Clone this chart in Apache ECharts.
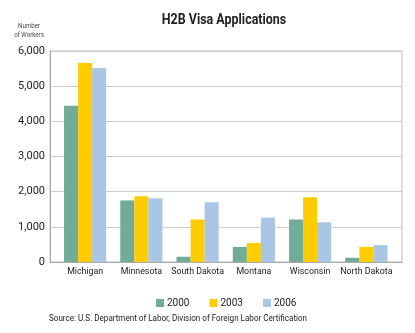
<!DOCTYPE html>
<html><head><meta charset="utf-8">
<script src="https://cdn.jsdelivr.net/npm/echarts@6/dist/echarts.min.js"></script>
<style>html,body{margin:0;padding:0;background:#fff}#c{width:415px;height:333px}</style>
</head><body><div id="c"></div>
<script>
const categories = ["Michigan","Minnesota","South Dakota","Montana","Wisconsin","North Dakota"];
const seriesNames = ["2000","2003","2006"];
const v2000 = [4440,1750,150,430,1210,120];
const v2003 = [5660,1870,1210,540,1840,430];
const v2006 = [5520,1810,1700,1260,1130,480];
const yTicks = [0,1000,2000,3000,4000,5000,6000];
const titleText = "H2B Visa Applications";
const sourceText = "Source: U.S. Department of Labor, Division of Foreign Labor Certification";
const yName = "Number\nof Workers";
const colors = ["#72ab96","#ffcc00","#a9c7e4"];
const F = "Roboto";
const chart = echarts.init(document.getElementById('c'));
chart.setOption({
  animation:false,
  graphic:[
    {type:'text',x:224,y:13,scaleX:0.89,style:{text:titleText,align:'center',verticalAlign:'top',
      font:'bold 14px Roboto',fill:'#222'}},
    {type:'text',x:49,y:314,scaleX:0.85,style:{text:sourceText,align:'left',verticalAlign:'top',
      font:'9.5px Roboto',fill:'#222'}},
    {type:'text',x:29,y:22,scaleX:0.82,style:{text:yName,align:'center',verticalAlign:'top',
     font:'7.5px Roboto',fill:'#444',lineHeight:9}}],
  grid:[{left:50,right:13,top:51,bottom:71,show:true,borderColor:'#bbb',borderWidth:1},
        {left:57,right:20.5,top:51,bottom:71}],
  legend:{data:seriesNames,top:293,left:151,itemWidth:8,itemHeight:8,itemGap:20,
    icon:'rect',textStyle:{fontFamily:F,fontSize:10,color:'#222',padding:[0,0,0,-2]}},
  xAxis:[{type:'value',gridIndex:0,min:0,max:1,show:true,
      axisLine:{show:true,lineStyle:{color:'#aaa'}},axisTick:{show:false},axisLabel:{show:false},splitLine:{show:false}},
    {type:'category',gridIndex:1,data:categories,
    axisLine:{show:false},axisTick:{show:false},
    axisLabel:{fontFamily:F,fontSize:8.8,color:'#222',margin:5,interval:0}}],
  yAxis:[{type:'value',gridIndex:0,min:yTicks[0],max:yTicks[yTicks.length-1],interval:1000,
    axisLine:{show:true,lineStyle:{color:'#aaa'}},axisTick:{show:false},
    splitLine:{lineStyle:{color:'#ccc'}},
    axisLabel:{fontFamily:F,fontSize:11,color:'#222',margin:5,
      formatter:v=>v.toLocaleString('en-US')}},
    {type:'value',gridIndex:1,min:yTicks[0],max:yTicks[yTicks.length-1],show:false}],
  series:[v2000,v2003,v2006].map((d,i)=>({name:seriesNames[i],type:'bar',data:d,
    xAxisIndex:1,yAxisIndex:1,
    barGap:'0%',barCategoryGap:'25%',itemStyle:{color:colors[i]}}))
});
</script></body></html>
